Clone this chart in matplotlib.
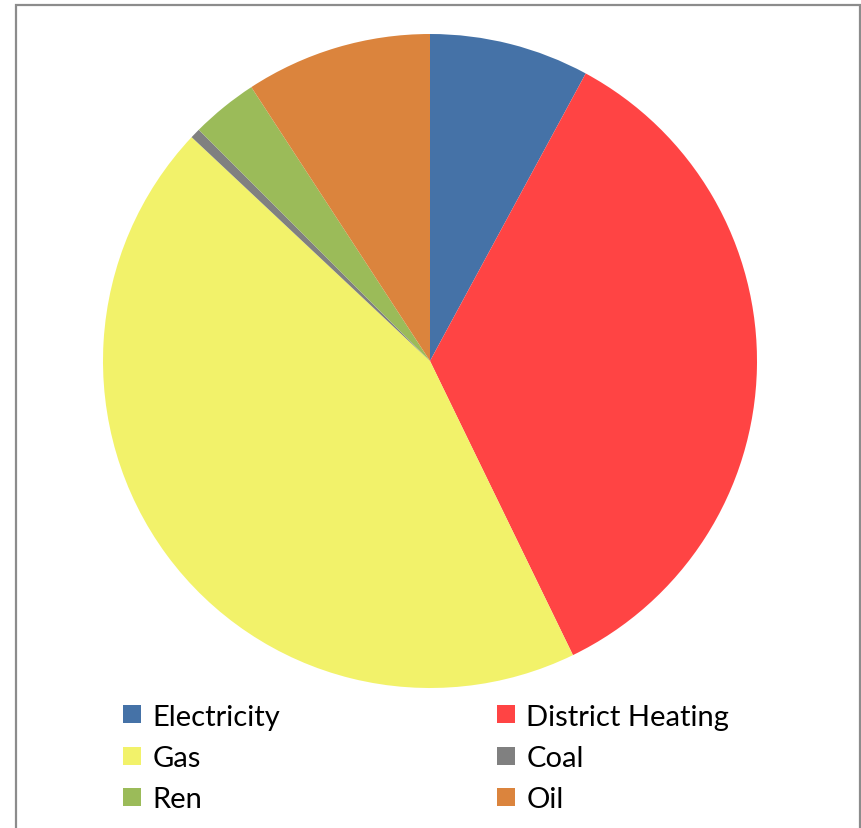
import matplotlib.pyplot as plt
from matplotlib.lines import Line2D
from matplotlib.patches import Rectangle

# Share of each energy source (percent)
labels = ['Electricity', 'District Heating', 'Gas', 'Coal', 'Ren', 'Oil']
shares = [7.9, 34.9, 44.2, 0.5, 3.3, 9.2]
colors = ['#4572A7', '#FF4444', '#F2F26A', '#808080', '#9BBB59', '#DB843D']

plt.rcParams['font.family'] = ['Lato', 'DejaVu Sans']

W, H = 862, 829
fig = plt.figure(figsize=(W / 100, H / 100), dpi=100)

# Pie axes: centre (430, 362) px, radius 327 px
cx, cy, r = 430, 362, 327
ax = fig.add_axes([(cx - r) / W, (H - cy - r) / H, 2 * r / W, 2 * r / H])
ax.pie(shares, colors=colors, startangle=90, counterclock=False,
       wedgeprops=dict(linewidth=0), radius=1)
ax.set_xlim(-1, 1)
ax.set_ylim(-1, 1)
ax.set_aspect('auto')
ax.axis('off')

# Chart frame
fig.patches.append(Rectangle((16 / W, -0.01), (860 - 16) / W, (H - 6) / H + 0.01,
                             transform=fig.transFigure, fill=False,
                             edgecolor='#8C8C8C', linewidth=1.6))

# Legend
handles = [Line2D([], [], marker='s', linestyle='', markersize=13,
                  markerfacecolor=c, markeredgewidth=0) for c in colors]
# order so two columns read row by row
order = [0, 2, 4, 1, 3, 5]
fig.legend([handles[i] for i in order], [labels[i] for i in order],
           ncol=2, loc='upper left', bbox_to_anchor=(106 / W, 1 - 690 / H),
           frameon=False, fontsize=21, handlelength=0.8, handletextpad=0.3,
           columnspacing=7.33, labelspacing=0.52, borderpad=0)

fig.savefig('out.png', dpi=100)
